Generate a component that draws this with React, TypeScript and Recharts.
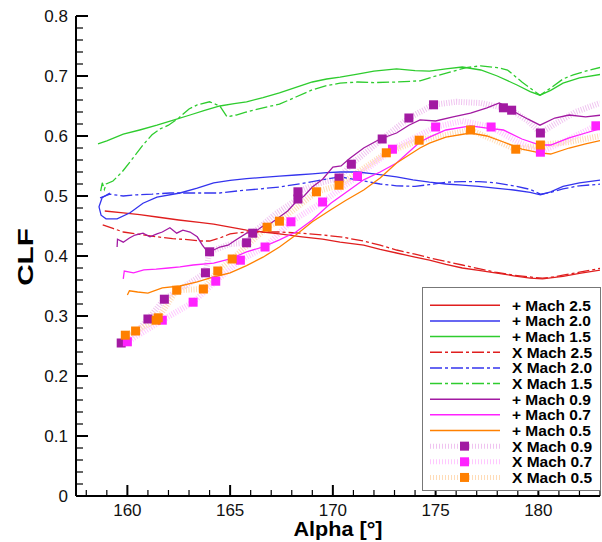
import { ComposedChart, Line, XAxis, YAxis, Legend } from "recharts";

// CLF vs Alpha, sweeps at several Mach numbers. Solid "+" runs, dash-dot "X" runs,
// and for the subsonic X runs a faint dotted band with square markers.
const RED = "#e01e1e";
const BLUE = "#3434ee";
const GREEN = "#2ecc2e";
const PURPLE = "#a21aa2";
const MAGENTA = "#ff22ff";
const ORANGE = "#ff8000";
const BAND_09 = "#f0c4f0";
const BAND_07 = "#ffc8ff";
const BAND_05 = "#ffdcb8";
const FONT = "'Liberation Sans', Arial, sans-serif";

const X_MAJOR = [160, 165, 170, 175, 180];
const X_MINOR = [158, 159, 160, 161, 162, 163, 164, 165, 166, 167, 168, 169, 170, 171, 172, 173, 174, 175, 176, 177, 178, 179, 180, 181, 182, 183];
const Y_MAJOR = [0, 0.1, 0.2, 0.3, 0.4, 0.5, 0.6, 0.7, 0.8];
const Y_MINOR = Array.from({ length: 41 }, (_, i) => Math.round(i * 2) / 100);

type P = [number, number];
type M = [number, number, number];

const plusM25: P[] = [
  [158.9, 0.475], [159.8, 0.472], [160.6, 0.469], [161.44, 0.465], [162.5, 0.46], [163.5, 0.456],
  [164.2, 0.453], [165.0, 0.448], [165.8, 0.443], [166.6, 0.44], [167.4, 0.437], [168.5, 0.432],
  [169.5, 0.428], [170.35, 0.423], [171.5, 0.418], [172.3, 0.411], [173.1, 0.405], [174.0, 0.398],
  [174.7, 0.393], [175.5, 0.386], [176.3, 0.38], [177.1, 0.376], [177.9, 0.372], [178.8, 0.367],
  [179.6, 0.363], [180.2, 0.362], [180.7, 0.364], [181.2, 0.366], [182.0, 0.371], [183.1, 0.377],
];
const xM25: P[] = [
  [158.8, 0.452], [159.3, 0.446], [159.8, 0.44], [160.6, 0.436], [161.44, 0.432], [162.2, 0.429],
  [163.05, 0.427], [163.5, 0.425], [164.0, 0.425], [164.5, 0.43], [165.0, 0.437], [165.8, 0.44],
  [166.6, 0.44], [167.4, 0.44], [168.5, 0.438], [169.5, 0.435], [170.35, 0.432], [171.5, 0.425],
  [172.3, 0.418], [173.1, 0.41], [174.0, 0.403], [174.7, 0.397], [175.5, 0.391], [176.3, 0.385],
  [177.1, 0.379], [177.9, 0.373], [178.8, 0.368], [179.6, 0.365], [180.2, 0.363], [180.7, 0.365],
  [181.2, 0.368], [182.0, 0.373], [183.1, 0.38],
];
const plusM20: P[] = [
  [159.15, 0.505], [158.77, 0.497], [158.62, 0.482], [158.72, 0.468], [158.96, 0.462], [159.5, 0.462],
  [160.13, 0.472], [160.76, 0.488], [161.44, 0.498], [162.56, 0.505], [163.4, 0.513], [164.2, 0.522],
  [165.0, 0.526], [165.8, 0.529], [166.6, 0.531], [167.4, 0.533], [168.2, 0.535], [169.0, 0.537],
  [169.7, 0.539], [170.35, 0.54], [171.2, 0.54], [172.0, 0.537], [173.1, 0.532], [173.9, 0.527],
  [174.7, 0.523], [175.5, 0.52], [176.3, 0.518], [177.1, 0.516], [177.9, 0.513], [178.8, 0.51],
  [179.6, 0.506], [180.1, 0.502], [180.6, 0.507], [181.2, 0.516], [182.0, 0.522], [183.1, 0.527],
];
const xM20: P[] = [
  [158.67, 0.497], [159.15, 0.503], [159.8, 0.5], [160.47, 0.502], [161.2, 0.503], [162.07, 0.505],
  [163.0, 0.505], [164.5, 0.505], [165.5, 0.509], [166.5, 0.512], [167.4, 0.515], [168.5, 0.521],
  [169.5, 0.527], [170.35, 0.532], [171.5, 0.525], [172.3, 0.52], [173.1, 0.517], [174.0, 0.516],
  [174.7, 0.519], [175.5, 0.523], [176.3, 0.524], [177.1, 0.524], [177.9, 0.522], [178.8, 0.517],
  [179.6, 0.511], [180.1, 0.503], [180.6, 0.506], [181.2, 0.512], [182.0, 0.517], [183.1, 0.52],
];
const plusM15: P[] = [
  [158.57, 0.587], [159.0, 0.592], [159.8, 0.603], [160.6, 0.61], [161.44, 0.618], [162.2, 0.626],
  [163.05, 0.635], [163.8, 0.643], [164.5, 0.65], [165.2, 0.654], [165.8, 0.657], [166.6, 0.664],
  [167.4, 0.672], [168.2, 0.681], [169.0, 0.69], [169.7, 0.695], [170.35, 0.698], [171.2, 0.703],
  [172.0, 0.708], [173.1, 0.712], [174.0, 0.709], [174.7, 0.708], [175.5, 0.712], [176.3, 0.715],
  [177.2, 0.71], [178.0, 0.7], [178.96, 0.685], [179.6, 0.674], [180.08, 0.668], [180.6, 0.676],
  [181.2, 0.688], [182.0, 0.697], [183.1, 0.703],
];
const xM15: P[] = [
  [158.7, 0.508], [158.78, 0.522], [158.88, 0.511], [158.97, 0.52], [159.3, 0.525], [159.74, 0.54],
  [160.27, 0.563], [160.76, 0.585], [161.2, 0.602], [161.6, 0.612], [162.0, 0.618], [162.5, 0.63],
  [163.0, 0.645], [163.4, 0.652], [164.0, 0.657], [164.5, 0.65], [164.85, 0.632], [165.3, 0.635],
  [165.8, 0.64], [166.6, 0.647], [167.4, 0.653], [168.2, 0.665], [169.0, 0.677], [169.7, 0.684],
  [170.35, 0.688], [171.2, 0.69], [172.0, 0.689], [173.1, 0.69], [174.24, 0.692], [175.0, 0.7],
  [175.85, 0.708], [176.5, 0.714], [177.2, 0.717], [178.0, 0.714], [178.5, 0.71], [179.2, 0.69],
  [180.08, 0.668], [180.6, 0.68], [181.2, 0.695], [181.7, 0.702], [182.4, 0.709], [183.1, 0.715],
];
const plusM09: P[] = [
  [159.5, 0.415], [159.52, 0.428], [159.8, 0.423], [160.1, 0.43], [160.37, 0.435], [160.76, 0.438],
  [161.1, 0.432], [161.44, 0.437], [161.7, 0.44], [162.07, 0.447], [162.4, 0.438], [162.7, 0.443],
  [163.05, 0.44], [163.4, 0.432], [163.65, 0.418], [163.9, 0.407], [164.2, 0.41], [164.5, 0.415],
  [164.9, 0.418], [165.2, 0.425], [165.8, 0.438], [166.2, 0.44], [166.6, 0.45], [167.0, 0.455],
  [167.4, 0.465], [167.8, 0.475], [168.2, 0.49], [168.6, 0.5], [169.0, 0.515], [169.5, 0.528],
  [170.0, 0.548], [170.4, 0.55], [170.8, 0.562], [171.5, 0.58], [172.3, 0.595], [173.1, 0.605],
  [173.7, 0.618], [174.24, 0.627], [175.0, 0.625], [175.85, 0.632], [176.7, 0.638], [177.5, 0.647],
  [178.1, 0.655], [178.5, 0.648], [178.96, 0.638], [179.5, 0.628], [180.08, 0.618], [180.8, 0.63],
  [181.5, 0.635], [182.3, 0.632], [183.1, 0.635],
];
const plusM07: P[] = [
  [159.8, 0.362], [159.85, 0.375], [160.3, 0.372], [160.8, 0.377], [161.4, 0.378], [162.0, 0.38],
  [162.56, 0.382], [163.2, 0.385], [164.2, 0.388], [165.0, 0.395], [165.8, 0.407], [166.6, 0.415],
  [167.4, 0.427], [168.2, 0.44], [169.0, 0.46], [169.9, 0.488], [170.6, 0.505], [171.5, 0.527],
  [172.3, 0.54], [173.1, 0.555], [174.24, 0.59], [174.7, 0.598], [175.5, 0.61], [176.7, 0.617],
  [177.5, 0.613], [178.3, 0.61], [179.2, 0.595], [180.08, 0.585], [180.6, 0.585], [181.5, 0.597],
  [182.3, 0.605], [183.1, 0.613],
];
const plusM05: P[] = [
  [160.0, 0.335], [160.1, 0.342], [160.5, 0.34], [161.0, 0.338], [161.7, 0.347], [162.56, 0.35],
  [163.4, 0.357], [164.2, 0.365], [165.0, 0.372], [165.8, 0.384], [166.6, 0.398], [167.4, 0.415],
  [168.2, 0.435], [169.0, 0.457], [169.9, 0.477], [170.6, 0.492], [171.5, 0.51], [172.3, 0.53],
  [173.1, 0.555], [174.24, 0.58], [174.7, 0.588], [175.5, 0.598], [176.7, 0.605], [177.5, 0.6],
  [178.3, 0.59], [179.2, 0.578], [180.08, 0.572], [180.6, 0.57], [181.5, 0.58], [182.3, 0.587],
  [183.1, 0.593],
];
// third field: 1 = a square marker sits on that point
const xM09: M[] = [
  [159.7, 0.255, 1], [160.5, 0.275, 0], [161.0, 0.295, 1], [161.8, 0.328, 1], [162.8, 0.35, 0],
  [163.8, 0.372, 1], [164.0, 0.407, 1], [165.0, 0.42, 0], [165.8, 0.422, 1], [166.1, 0.438, 1],
  [167.2, 0.47, 0], [168.3, 0.495, 1], [168.3, 0.507, 1], [169.2, 0.52, 0], [170.3, 0.53, 1],
  [170.9, 0.553, 1], [172.4, 0.595, 1], [173.7, 0.63, 1], [174.9, 0.652, 1], [176.0, 0.657, 0],
  [177.2, 0.655, 0], [178.3, 0.647, 1], [178.7, 0.643, 1], [179.5, 0.625, 0], [180.1, 0.605, 1],
  [180.8, 0.62, 0], [181.8, 0.64, 0], [183.0, 0.655, 0],
];
const xM07: M[] = [
  [160.0, 0.257, 1], [161.7, 0.293, 1], [163.2, 0.323, 1], [164.3, 0.358, 1], [165.5, 0.393, 1],
  [166.7, 0.415, 1], [167.96, 0.457, 1], [169.5, 0.49, 1], [171.2, 0.533, 1], [172.9, 0.578, 1],
  [175.0, 0.615, 1], [176.3, 0.625, 0], [177.7, 0.615, 1], [179.0, 0.59, 0], [180.1, 0.573, 1],
  [181.5, 0.595, 0], [182.8, 0.617, 1], [183.0, 0.62, 0],
];
const xM05: M[] = [
  [159.9, 0.268, 1], [160.4, 0.275, 1], [161.4, 0.293, 1], [161.5, 0.297, 1], [162.4, 0.343, 1],
  [163.7, 0.345, 1], [164.4, 0.375, 1], [165.1, 0.395, 1], [166.8, 0.448, 1], [167.4, 0.458, 1],
  [169.2, 0.507, 1], [170.3, 0.518, 1], [172.6, 0.572, 1], [174.2, 0.593, 1], [176.7, 0.61, 1],
  [178.9, 0.578, 1], [180.1, 0.585, 1], [181.5, 0.59, 0], [183.0, 0.6, 0],
];

const pts = (a: P[]) => a.map(([x, y]) => ({ x, y }));
const mpts = (a: M[]) => a.map(([x, y, m]) => ({ x, y, m }));

const DASHDOT = "12 3 3 3";

const SOLID = [
  { name: "+ Mach 2.5", data: plusM25, color: RED, dash: undefined },
  { name: "+ Mach 2.0", data: plusM20, color: BLUE, dash: undefined },
  { name: "+ Mach 1.5", data: plusM15, color: GREEN, dash: undefined },
  { name: "X Mach 2.5", data: xM25, color: RED, dash: DASHDOT },
  { name: "X Mach 2.0", data: xM20, color: BLUE, dash: DASHDOT },
  { name: "X Mach 1.5", data: xM15, color: GREEN, dash: DASHDOT },
  { name: "+ Mach 0.9", data: plusM09, color: PURPLE, dash: undefined },
  { name: "+ Mach 0.7", data: plusM07, color: MAGENTA, dash: undefined },
  { name: "+ Mach 0.5", data: plusM05, color: ORANGE, dash: undefined },
];
const MARKED = [
  { name: "X Mach 0.9", data: xM09, color: PURPLE, band: BAND_09 },
  { name: "X Mach 0.7", data: xM07, color: MAGENTA, band: BAND_07 },
  { name: "X Mach 0.5", data: xM05, color: ORANGE, band: BAND_05 },
];

const XTick = (props: any) => {
  const { x, y, payload } = props;
  const major = X_MAJOR.includes(payload.value);
  return (
    <g>
      <line x1={x} x2={x} y1={y} y2={y - (major ? 11 : 6)} stroke="#000" strokeWidth={major ? 2 : 1.2} />
      {major && (
        <text x={x} y={y + 19.5} textAnchor="middle" fontSize={17} fontFamily={FONT} fill="#111">
          {payload.value}
        </text>
      )}
    </g>
  );
};

const YTick = (props: any) => {
  const { x, y, payload } = props;
  const v = payload.value as number;
  const major = Y_MAJOR.some((m) => Math.abs(m - v) < 1e-6);
  return (
    <g>
      <line x1={x} x2={x + (major ? 12 : 7)} y1={y} y2={y} stroke="#000" strokeWidth={major ? 2 : 1.2} />
      {major && (
        <text x={x - 8} y={y + 6} textAnchor="end" fontSize={17} fontFamily={FONT} fill="#111">
          {String(Math.round(v * 10) / 10)}
        </text>
      )}
    </g>
  );
};

const LegendBox = () => {
  const rows = [
    ...SOLID.map((s) => ({ name: s.name, color: s.color, dash: s.dash, band: "" })),
    ...MARKED.map((s) => ({ name: s.name, color: s.color, dash: undefined, band: s.band })),
  ];
  return (
    <div style={{ width: 179, height: 204, border: "1px solid #777", background: "#fff", boxSizing: "border-box" }}>
      <svg width={177} height={202}>
        {rows.map((r, i) => {
          const y = 17.3 + i * 15.65;
          return (
            <g key={r.name}>
              {r.band ? (
                <>
                  <line x1={7} x2={77} y1={y} y2={y} stroke={r.band} strokeWidth={5} strokeDasharray="1 2" />
                  <rect x={37} y={y - 4.5} width={9} height={9} fill={r.color} />
                </>
              ) : (
                <line x1={7} x2={77} y1={y} y2={y} stroke={r.color} strokeWidth={1.5} strokeDasharray={r.dash} />
              )}
              <text x={89} y={y + 5.5} fontSize={15.5} fontWeight="bold" fontFamily={FONT} fill="#000">
                {r.name}
              </text>
            </g>
          );
        })}
      </svg>
    </div>
  );
};

const squareDot = (color: string) => (p: any) =>
  p.payload.m ? (
    <rect key={p.index} x={p.cx - 4.5} y={p.cy - 4.5} width={9} height={9} fill={color} />
  ) : (
    <g key={p.index} />
  );

export default function App() {
  return (
    <div style={{ position: "absolute", left: 0, top: 0, width: 602, height: 542, background: "#fff" }}>
      <ComposedChart width={602} height={542} margin={{ top: 16, right: 2, bottom: 45, left: 75 }}>
        <XAxis
          type="number"
          dataKey="x"
          domain={[157.5, 183]}
          allowDataOverflow
          ticks={X_MINOR}
          interval={0}
          height={1}
          tickSize={0}
          tickMargin={0}
          tickLine={false}
          tick={<XTick />}
          axisLine={{ stroke: "#000", strokeWidth: 2 }}
          label={{
            content: () => (
              <text
                transform="translate(338 536) scale(1.08 1)"
                textAnchor="middle"
                fontSize={20}
                fontWeight="bold"
                fontFamily={FONT}
                fill="#000"
              >
                Alpha [°]
              </text>
            ),
          }}
        />
        <YAxis
          type="number"
          dataKey="y"
          domain={[0, 0.8]}
          allowDataOverflow
          ticks={Y_MINOR}
          interval={0}
          width={1}
          tickSize={0}
          tickMargin={0}
          tickLine={false}
          tick={<YTick />}
          axisLine={{ stroke: "#000", strokeWidth: 2 }}
          label={{
            content: () => (
              <text
                transform="translate(33 257) rotate(-90) scale(1.35 1)"
                textAnchor="middle"
                fontSize={22}
                fontWeight="bold"
                fontFamily={FONT}
                fill="#000"
              >
                CLF
              </text>
            ),
          }}
        />
        {MARKED.map((s) => (
          <Line
            key={s.name + "-band"}
            data={mpts(s.data)}
            dataKey="y"
            type="linear"
            stroke={s.band}
            strokeWidth={6}
            strokeDasharray="1 1.5"
            dot={false}
            activeDot={false}
            isAnimationActive={false}
          />
        ))}
        {SOLID.map((s) => (
          <Line
            key={s.name}
            data={pts(s.data)}
            dataKey="y"
            type="linear"
            stroke={s.color}
            strokeWidth={1.3}
            strokeDasharray={s.dash}
            dot={false}
            activeDot={false}
            isAnimationActive={false}
          />
        ))}
        {MARKED.map((s) => (
          <Line
            key={s.name + "-marks"}
            data={mpts(s.data)}
            dataKey="y"
            stroke="none"
            dot={squareDot(s.color)}
            activeDot={false}
            isAnimationActive={false}
          />
        ))}
        <Legend
          layout="vertical"
          align="center"
          verticalAlign="middle"
          content={() => <LegendBox />}
          wrapperStyle={{ left: 422, top: 287, width: 179, height: 204, margin: 0 }}
        />
      </ComposedChart>
    </div>
  );
}
